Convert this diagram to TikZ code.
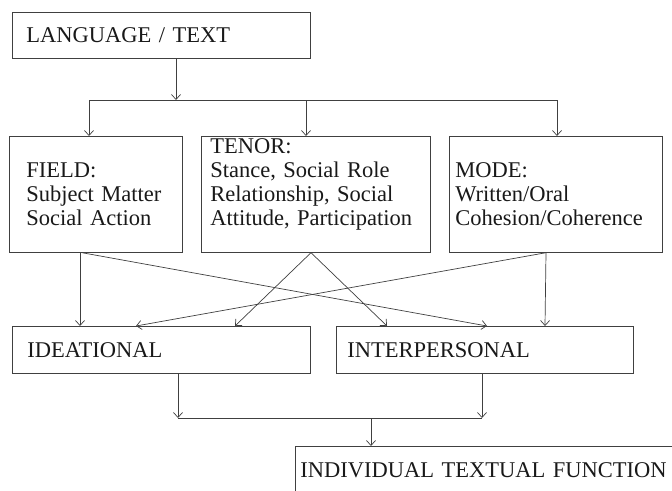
\documentclass[tikz,border=0pt]{standalone}
\usepackage{fontspec}
\setmainfont{Liberation Serif}
\usepackage{tikz}
\usetikzlibrary{arrows.meta}

\tikzset{
  box/.style={shape=rectangle, draw=black!75, line width=0.7pt, anchor=north west, align=left, inner ysep=0pt, text=black!90, font=\fontsize{22.5}{24}\selectfont},
  wire/.style={draw=black!75, line width=0.7pt},
  arr/.style={wire, -{Straight Barb[length=5pt,width=9pt]}}
}

\begin{document}
\begin{tikzpicture}[x=1pt, y=1pt]
\useasboundingbox (0,0) rectangle (672,-490);
\node [box, inner xsep=14pt, text width=270pt, minimum width=298pt, minimum height=46pt] (lang) at (12,-12) {LANGUAGE / TEXT};
\node [box, inner xsep=17pt, text width=139pt, minimum width=173pt, minimum height=116pt] (field) at (9,-136) {FIELD:\\Subject Matter\\Social Action};
\node [box, inner xsep=9pt, text width=211pt, minimum width=229pt, minimum height=116pt, text depth=96pt] (tenor) at (201,-136) {TENOR:\\Stance, Social Role\\Relationship, Social\\Attitude, Participation};
\node [box, inner xsep=6pt, text width=201pt, minimum width=213pt, minimum height=116pt] (mode) at (449,-136) {MODE:\\Written/Oral\\Cohesion/Coherence};
\node [box, inner xsep=15pt, text width=268pt, minimum width=298pt, minimum height=47pt] (ideat) at (12,-326) {IDEATIONAL};
\node [box, inner xsep=11pt, text width=275pt, minimum width=297pt, minimum height=47pt] (interp) at (336,-326) {INTERPERSONAL};
\node [box, inner xsep=5pt, text width=390pt, minimum width=400pt, minimum height=48pt] (indiv) at (295,-446) {INDIVIDUAL TEXTUAL FUNCTION};
% split under language / text
\coordinate (split) at (176,-100);
\coordinate (bus1) at (89,-100);
\coordinate (bus2) at (306,-100);
\coordinate (bus3) at (557,-100);
\draw[arr] (lang.south -| split) -- (split);
\draw[wire] (bus1) -- (bus3);
\draw[arr] (bus1) -- (bus1 |- field.north);
\draw[arr] (bus2) -- (bus2 |- tenor.north);
\draw[arr] (bus3) -- (bus3 |- mode.north);
% field, tenor, mode to the two metafunctions
\draw[arr] ([xshift=71pt]field.south west) -- ([xshift=68pt]ideat.north west);
\draw[arr] ([xshift=73pt]field.south west) -- ([xshift=151pt]interp.north west);
\draw[arr] ([xshift=110pt]tenor.south west) -- ([xshift=223pt]ideat.north west);
\draw[arr] ([xshift=110pt]tenor.south west) -- ([xshift=51pt]interp.north west);
\draw[arr] ([xshift=97pt]mode.south west) -- ([xshift=124pt]ideat.north west);
\draw[arr] ([xshift=97pt]mode.south west) -- ([xshift=209pt]interp.north west);
% join into textual function
\coordinate (join) at (371,-418);
\coordinate (jl) at (178,-418);
\coordinate (jr) at (482,-418);
\draw[arr] (ideat.south -| jl) -- (jl);
\draw[arr] (interp.south -| jr) -- (jr);
\draw[wire] (jl) -- (jr);
\draw[arr] (join) -- (join |- indiv.north);
\end{tikzpicture}
\end{document}
